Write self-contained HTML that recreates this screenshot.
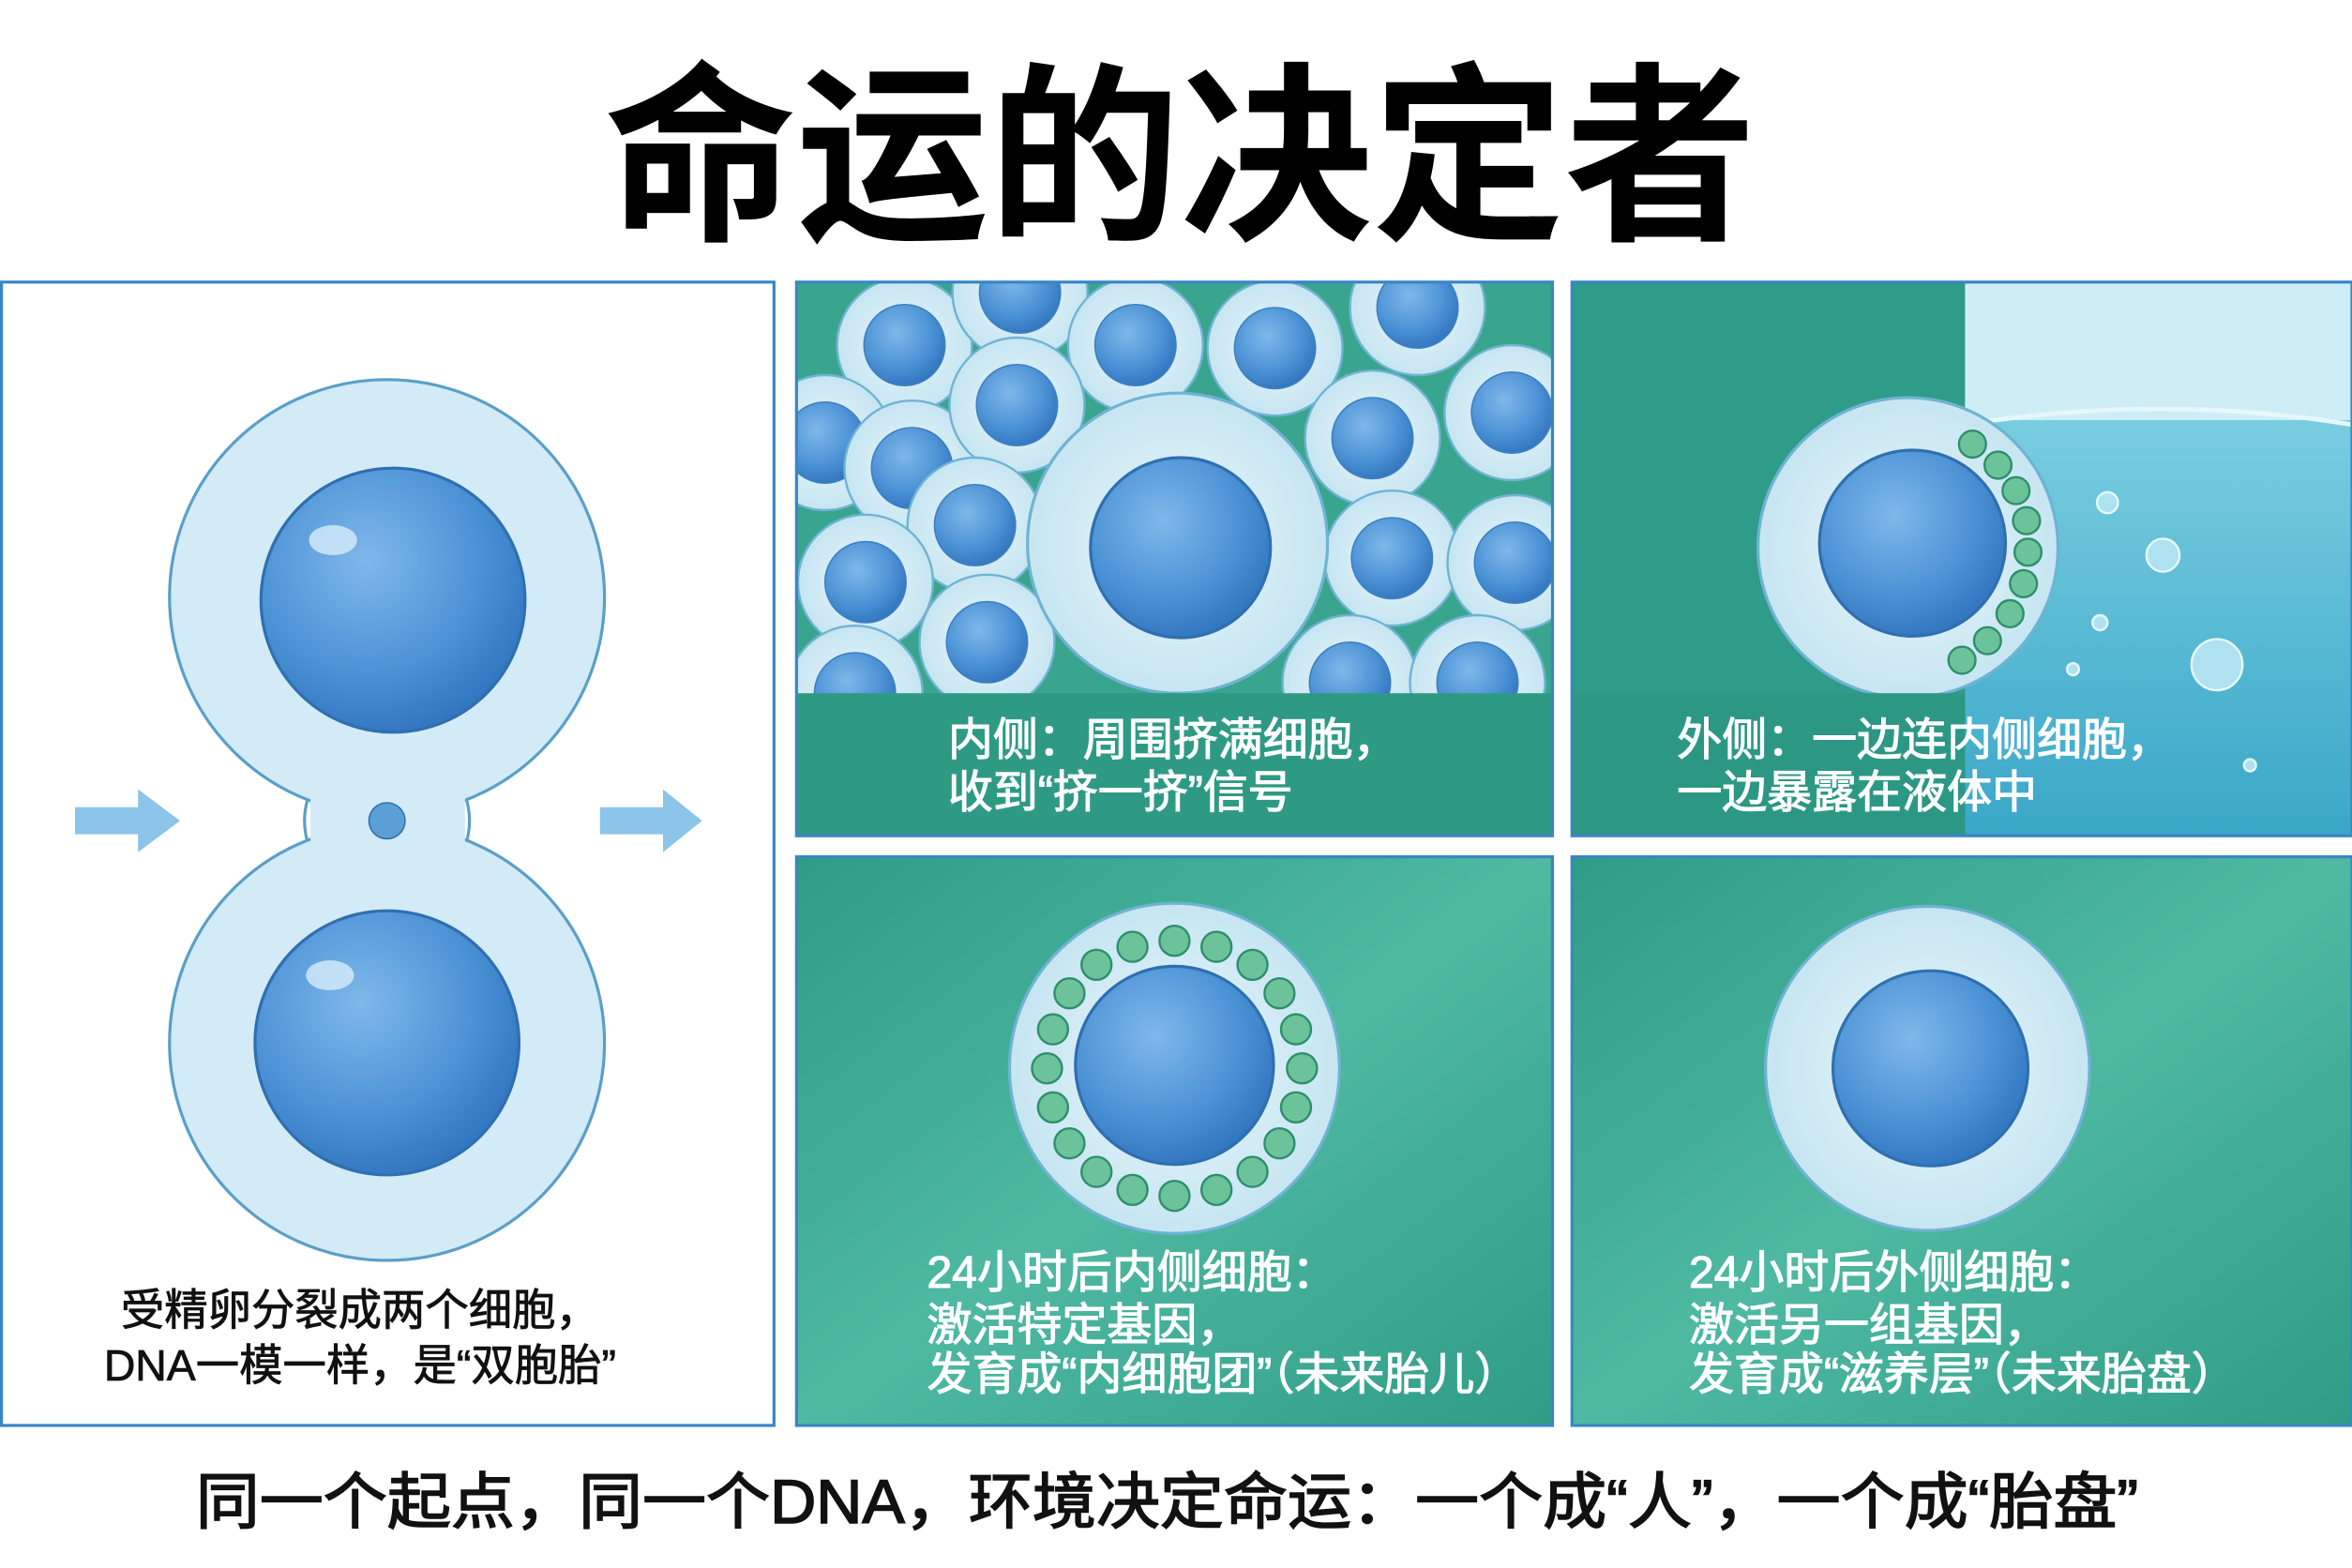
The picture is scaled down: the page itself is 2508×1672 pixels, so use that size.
<!DOCTYPE html>
<html><head><meta charset="utf-8"><style>
html,body{margin:0;padding:0;background:#fff;}
svg{display:block}
text{font-family:"Liberation Sans","Noto Sans CJK SC",sans-serif;}
</style></head><body>
<svg width="2508" height="1672" viewBox="0 0 1568 1045" preserveAspectRatio="none" xmlns="http://www.w3.org/2000/svg">
<defs>
<radialGradient id="nuc" cx="0.4" cy="0.35" r="0.7"><stop offset="0" stop-color="#7fb8ea"/><stop offset="0.6" stop-color="#4d93d6"/><stop offset="1" stop-color="#2f73bd"/></radialGradient>
<radialGradient id="cyt" cx="0.5" cy="0.5" r="0.6"><stop offset="0" stop-color="#e9f6fb"/><stop offset="1" stop-color="#bfe2f0"/></radialGradient>
<linearGradient id="teal" x1="0" y1="0" x2="1" y2="1"><stop offset="0" stop-color="#2f9c86"/><stop offset="0.5" stop-color="#4fb9a2"/><stop offset="1" stop-color="#2f9c86"/></linearGradient>
<linearGradient id="water" x1="0" y1="0" x2="0" y2="1"><stop offset="0" stop-color="#79cde0"/><stop offset="1" stop-color="#3aa7c8"/></linearGradient>
<g id="sc"><circle r="45" fill="url(#cyt)" stroke="#6fb3d4" stroke-width="1.5"/><circle r="27" fill="url(#nuc)" stroke="#3d80c0" stroke-width="1"/></g>
</defs>
<rect width="1568" height="1045" fill="#fff"/>
<text x="787" y="150" text-anchor="middle" font-size="128" font-weight="bold" fill="#000">命运的决定者</text>

<!-- left panel -->
<rect x="1" y="188" width="515" height="762" fill="#fff" stroke="#3a86c4" stroke-width="2"/>
<g fill="#d2ebf6" stroke="#5a9fc8" stroke-width="2">
<circle cx="258" cy="398" r="145"/><circle cx="258" cy="695" r="145"/>
</g>
<rect x="207" y="505" width="103" height="85" fill="#d2ebf6"/>
<path d="M205 533 Q201 547 205 561 M311 533 Q315 547 311 561" stroke="#5a9fc8" stroke-width="2" fill="none"/>
<circle cx="262" cy="400" r="88" fill="url(#nuc)" stroke="#2f6fb0" stroke-width="2"/>
<circle cx="258" cy="695" r="88" fill="url(#nuc)" stroke="#2f6fb0" stroke-width="2"/>
<ellipse cx="222" cy="360" rx="16" ry="10" fill="#d7ecfb" opacity="0.8"/>
<ellipse cx="220" cy="650" rx="16" ry="10" fill="#d7ecfb" opacity="0.8"/>
<circle cx="258" cy="547" r="12" fill="#5aa0d6" stroke="#2f6fb0"/>
<path d="M50 538 H92 V526 L120 547 L92 568 V556 H50 Z" fill="#8cc4ea"/>
<path d="M400 538 H442 V526 L468 547 L442 568 V556 H400 Z" fill="#8cc4ea"/>
<g fill="#111" stroke="#111" stroke-width="0.5" font-size="29">
<text x="240" y="883" text-anchor="middle">受精卵分裂成两个细胞，</text>
<text x="240" y="920" text-anchor="middle">DNA一模一样，是“双胞胎”</text>
</g>

<!-- top middle -->
<svg x="531" y="188" width="504" height="369" viewBox="531 188 504 369">
<rect x="531" y="188" width="504" height="369" fill="#3aa58e"/>
<use href="#sc" x="603" y="230"/><use href="#sc" x="680" y="195"/><use href="#sc" x="757" y="230"/><use href="#sc" x="850" y="232"/><use href="#sc" x="945" y="205"/><use href="#sc" x="1008" y="275"/>
<use href="#sc" x="550" y="295"/><use href="#sc" x="608" y="312"/><use href="#sc" x="678" y="270"/><use href="#sc" x="915" y="292"/><use href="#sc" x="650" y="350"/>
<use href="#sc" x="577" y="388"/><use href="#sc" x="658" y="428"/><use href="#sc" x="928" y="372"/><use href="#sc" x="1010" y="375"/><use href="#sc" x="900" y="455"/><use href="#sc" x="985" y="455"/><use href="#sc" x="570" y="462"/>
<circle cx="785" cy="362" r="100" fill="url(#cyt)" stroke="#6fb3d4" stroke-width="2"/>
<circle cx="787" cy="365" r="60" fill="url(#nuc)" stroke="#2f6fb0" stroke-width="2"/>
<rect x="531" y="462" width="504" height="95" fill="#2f9a84"/>
</svg>
<rect x="531" y="188" width="504" height="369" fill="none" stroke="#3a86c4" stroke-width="2"/>
<g fill="#fff" stroke="#fff" stroke-width="0.7" font-size="30">
<text x="632" y="503">内侧：周围挤满细胞，</text>
<text x="632" y="538">收到“挤一挤”信号</text>
</g>

<!-- top right -->
<rect x="1048" y="188" width="520" height="369" fill="#2e9c88"/>
<rect x="1310" y="188" width="258" height="100" fill="#cdeef4"/>
<rect x="1310" y="280" width="258" height="277" fill="url(#water)"/>
<path d="M1310 283 Q1440 262 1568 283" stroke="#e6f8fb" stroke-width="3" fill="none"/>
<circle cx="1272" cy="365" r="100" fill="url(#cyt)" stroke="#6fb3d4" stroke-width="2"/>
<circle cx="1275" cy="362" r="62" fill="url(#nuc)" stroke="#2f6fb0" stroke-width="2"/>
<g fill="#6cc39a" stroke="#2e8f6e" stroke-width="1.5">
<circle cx="1315" cy="296" r="9"/><circle cx="1332" cy="310" r="9"/><circle cx="1344" cy="327" r="9"/><circle cx="1351" cy="347" r="9"/><circle cx="1352" cy="368" r="9"/><circle cx="1349" cy="389" r="9"/><circle cx="1340" cy="409" r="9"/><circle cx="1325" cy="427" r="9"/><circle cx="1308" cy="440" r="9"/>
</g>
<g fill="#aee2f0" stroke="#e8f8fb" stroke-width="1.5">
<circle cx="1405" cy="335" r="7"/><circle cx="1442" cy="370" r="11"/><circle cx="1400" cy="415" r="5"/><circle cx="1478" cy="443" r="17"/><circle cx="1382" cy="446" r="4"/><circle cx="1500" cy="510" r="4"/>
</g>
<rect x="1048" y="462" width="262" height="95" fill="#2c9883"/>
<rect x="1048" y="188" width="520" height="369" fill="none" stroke="#3a86c4" stroke-width="2"/>
<g fill="#fff" stroke="#fff" stroke-width="0.7" font-size="30">
<text x="1118" y="503">外侧：一边连内侧细胞，</text>
<text x="1118" y="538">一边暴露在液体中</text>
</g>

<!-- bottom middle -->
<rect x="531" y="571" width="504" height="379" fill="url(#teal)" stroke="#3a86c4" stroke-width="2"/>
<circle cx="783" cy="712" r="110" fill="url(#cyt)" stroke="#6fb3d4" stroke-width="2"/>
<g fill="#6cc39a" stroke="#2e8f6e" stroke-width="1.5">
<circle cx="868" cy="712" r="10"/><circle cx="864" cy="738" r="10"/><circle cx="853" cy="762" r="10"/><circle cx="835" cy="781" r="10"/><circle cx="811" cy="793" r="10"/><circle cx="783" cy="797" r="10"/><circle cx="755" cy="793" r="10"/><circle cx="731" cy="781" r="10"/><circle cx="713" cy="762" r="10"/><circle cx="702" cy="738" r="10"/><circle cx="698" cy="712" r="10"/><circle cx="702" cy="686" r="10"/><circle cx="713" cy="662" r="10"/><circle cx="731" cy="643" r="10"/><circle cx="755" cy="631" r="10"/><circle cx="783" cy="627" r="10"/><circle cx="811" cy="631" r="10"/><circle cx="835" cy="643" r="10"/><circle cx="853" cy="662" r="10"/><circle cx="864" cy="686" r="10"/>
</g>
<circle cx="783" cy="710" r="66" fill="url(#nuc)" stroke="#2f6fb0" stroke-width="2"/>
<g fill="#fff" stroke="#fff" stroke-width="0.7" font-size="30">
<text x="618" y="858">24小时后内侧细胞：</text>
<text x="618" y="893">激活特定基因，</text>
<text x="618" y="926">发育成“内细胞团”（未来胎儿）</text>
</g>

<!-- bottom right -->
<rect x="1048" y="571" width="520" height="379" fill="url(#teal)" stroke="#3a86c4" stroke-width="2"/>
<circle cx="1285" cy="712" r="108" fill="url(#cyt)" stroke="#6fb3d4" stroke-width="2"/>
<circle cx="1287" cy="712" r="65" fill="url(#nuc)" stroke="#2f6fb0" stroke-width="2"/>
<g fill="#fff" stroke="#fff" stroke-width="0.7" font-size="30">
<text x="1126" y="858">24小时后外侧细胞：</text>
<text x="1126" y="893">激活另一组基因，</text>
<text x="1126" y="926">发育成“滋养层”（未来胎盘）</text>
</g>

<text x="778" y="1015" text-anchor="middle" font-size="41" fill="#111" stroke="#111" stroke-width="1" textLength="1295" lengthAdjust="spacingAndGlyphs">同一个起点，同一个DNA，环境决定命运：一个成“人”，一个成“胎盘”</text>
</svg>
</body></html>
